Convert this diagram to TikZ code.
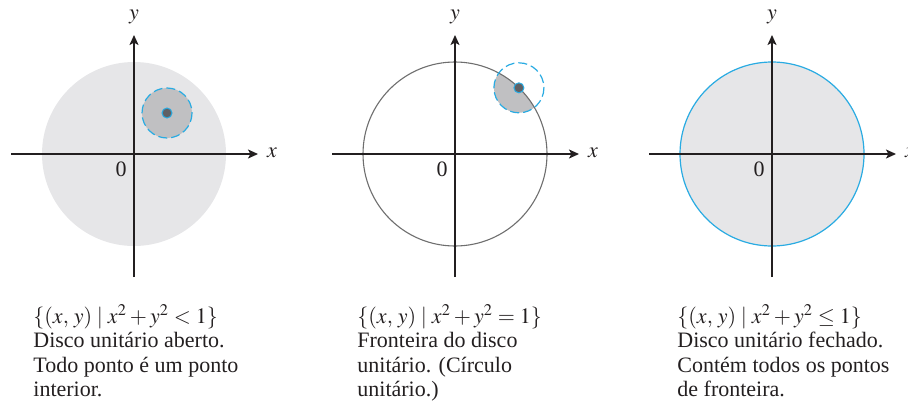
\documentclass[tikz,border=0pt]{standalone}
\usepackage{mathptmx}
\usepackage{fontspec}
\setmainfont{Liberation Serif}
\usetikzlibrary{arrows.meta,calc}
\definecolor{Eixo}{RGB}{35,31,32}
\definecolor{CinzaClaro}{RGB}{230,230,232}
\definecolor{CinzaMedio}{RGB}{192,192,194}
\definecolor{CinzaEscuro}{RGB}{96,96,100}
\definecolor{CinzaBorda}{RGB}{110,110,110}
\definecolor{AzulBorda}{RGB}{41,171,226}
\tikzset{
  eixo/.style={-{Stealth[length=5pt, width=4.5pt, inset=1.2pt]}, line width=0.75pt, Eixo},
  rotulo/.style={font=\fontsize{11}{13}\selectfont, text=Eixo, inner sep=0pt},
  legenda/.style={anchor=north west, align=left, inner sep=0pt, text=Eixo,
    font=\fontsize{11}{12.2}\selectfont},
  vizinho/.style={draw=AzulBorda, line width=0.6pt, dash pattern=on 4.5pt off 2pt},
  ponto/.style={fill=CinzaEscuro, draw=AzulBorda, line width=0.5pt},
}
\newcommand{\conjunto}[1]{$\{(x,\,y)\;|\;x^2+y^2#1 1\}$}
\begin{document}
\begin{tikzpicture}[x=0.5pt, y=-0.5pt]
  \useasboundingbox (0,0) rectangle (908,407);
  \coordinate (o1) at (134,154);
  \coordinate (o2) at (455,154);
  \coordinate (o3) at (772,154);
  \coordinate (p1) at (167,113);
  \coordinate (p2) at ($(o2)+(46:92 and -92)$);
  % disco aberto
  \fill[CinzaClaro] (o1) circle (92);
  \fill[CinzaMedio] (p1) circle (25);
  \draw[vizinho] (p1) circle (25);
  \draw[ponto] (p1) circle (5);
  % fronteira
  \begin{scope}
    \clip (o2) circle (92);
    \fill[CinzaMedio] (p2) circle (25);
  \end{scope}
  \draw[CinzaBorda, line width=0.55pt] (o2) circle (92);
  \draw[vizinho] (p2) circle (25);
  \draw[ponto] (p2) circle (5);
  % disco fechado
  \fill[CinzaClaro] (o3) circle (92);
  \draw[AzulBorda, line width=0.6pt] (o3) circle (92);
  % eixos
  \foreach \n in {1,2,3} {
    \draw[eixo] ([xshift=-61.5pt]o\n) -- ([xshift=62pt]o\n);
    \draw[eixo] ([yshift=-61.5pt]o\n) -- ([yshift=59.5pt]o\n);
    \node[rotulo] (x\n) at ([xshift=69pt, yshift=0.5pt]o\n) {$x$};
    \node[rotulo] (y\n) at ([yshift=68.5pt]o\n) {$y$};
    \node[rotulo] (z\n) at ([xshift=-6.5pt, yshift=-7.5pt]o\n) {0};
  }
  \node[legenda] (t1) at (33,304) {\conjunto{<}\\
    Disco unitário aberto.\\ Todo ponto é um ponto\\ interior.};
  \node[legenda] (t2) at (357,304) {\conjunto{=}\\
    Fronteira do disco\\ unitário. (Círculo\\ unitário.)};
  \node[legenda] (t3) at (677,304) {\conjunto{\le}\\
    Disco unitário fechado.\\ Contém todos os pontos\\ de fronteira.};
\end{tikzpicture}
\end{document}
